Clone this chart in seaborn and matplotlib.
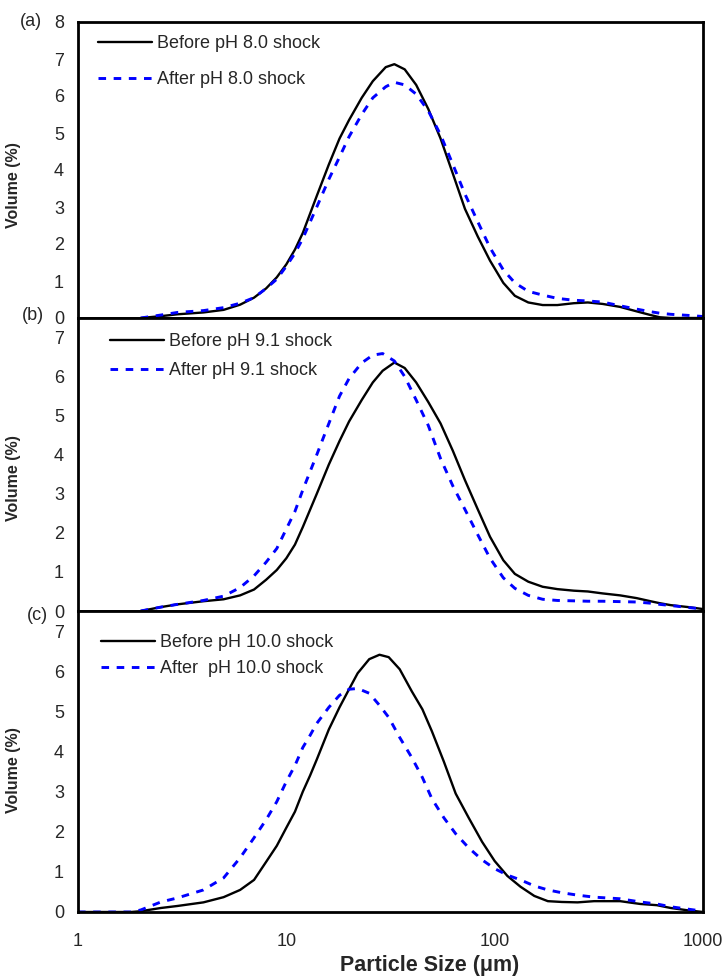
import numpy as np
import pandas as pd
import matplotlib
matplotlib.use("Agg")
import matplotlib.pyplot as plt
import seaborn as sns

# ---------------- data ----------------
sizes_a = [2.0, 2.5, 3, 4, 5, 6, 7, 8, 9, 10, 11, 12, 14, 16, 18, 20, 23, 26, 30, 33, 37, 42, 48,
           55, 63, 72, 83, 95, 110, 125, 145, 170, 200, 240, 280, 330, 400, 480, 560, 620, 700, 850, 1000]
before_a = [0.0, 0.05, 0.1, 0.15, 0.22, 0.36, 0.55, 0.8, 1.1, 1.45, 1.85, 2.3, 3.3, 4.15, 4.85, 5.35, 5.95,
            6.4, 6.78, 6.86, 6.72, 6.3, 5.65, 4.85, 3.9, 2.95, 2.2, 1.55, 0.95, 0.6, 0.42, 0.35, 0.35,
            0.4, 0.42, 0.38, 0.3, 0.18, 0.08, 0.02, 0.0, 0.0, 0.0]
after_a = [0.0, 0.08, 0.15, 0.2, 0.28, 0.4, 0.55, 0.8, 1.05, 1.4, 1.75, 2.15, 3.0, 3.75, 4.35, 4.9, 5.5,
           5.95, 6.25, 6.37, 6.3, 6.05, 5.6, 4.95, 4.15, 3.35, 2.6, 1.9, 1.3, 0.95, 0.72, 0.62, 0.53,
           0.48, 0.46, 0.43, 0.33, 0.24, 0.17, 0.13, 0.1, 0.07, 0.04]

sizes_b = [2.0, 2.5, 3, 4, 5, 6, 7, 8, 9, 10, 11, 12, 14, 16, 18, 20, 23, 26, 29, 33, 37, 42, 48,
           55, 63, 72, 83, 95, 110, 125, 145, 170, 200, 240, 280, 330, 400, 480, 560, 620, 700, 850, 1000]
before_b = [0.0, 0.1, 0.17, 0.25, 0.3, 0.4, 0.55, 0.8, 1.05, 1.35, 1.7, 2.15, 3.0, 3.75, 4.35, 4.85, 5.4,
            5.85, 6.15, 6.36, 6.22, 5.85, 5.35, 4.8, 4.1, 3.35, 2.6, 1.9, 1.3, 0.95, 0.75, 0.62, 0.56,
            0.52, 0.5, 0.45, 0.4, 0.33, 0.25, 0.2, 0.15, 0.1, 0.05]
after_b = [0.0, 0.1, 0.17, 0.27, 0.38, 0.6, 0.9, 1.25, 1.6, 2.1, 2.55, 3.1, 4.0, 4.8, 5.5, 5.95, 6.35,
           6.55, 6.59, 6.4, 6.0, 5.4, 4.75, 3.9, 3.2, 2.6, 1.95, 1.35, 0.85, 0.58, 0.4, 0.3, 0.27,
           0.26, 0.25, 0.25, 0.24, 0.23, 0.2, 0.17, 0.14, 0.09, 0.05]

sizes_c = [1, 1.5, 1.8, 2.0, 2.5, 3, 4, 5, 6, 7, 8, 9, 10, 11, 12, 13, 14, 16, 18, 20, 22, 25, 28, 31,
           35, 40, 45, 50, 57, 65, 75, 87, 100, 115, 133, 155, 180, 210, 250, 300, 400, 500, 600, 700,
           850, 1000]
before_c = [0.0, 0.0, 0.0, 0.02, 0.1, 0.15, 0.24, 0.37, 0.55, 0.8, 1.25, 1.65, 2.1, 2.5, 3.0, 3.4, 3.8,
            4.55, 5.1, 5.55, 5.95, 6.3, 6.41, 6.35, 6.05, 5.5, 5.05, 4.5, 3.75, 2.95, 2.35, 1.75, 1.27,
            0.9, 0.63, 0.4, 0.27, 0.25, 0.24, 0.27, 0.27, 0.2, 0.17, 0.1, 0.04, 0.0]
after_c = [0.0, 0.0, 0.0, 0.05, 0.25, 0.35, 0.55, 0.85, 1.35, 1.85, 2.3, 2.75, 3.25, 3.65, 4.1, 4.4,
           4.7, 5.1, 5.4, 5.55, 5.57, 5.45, 5.15, 4.85, 4.35, 3.85, 3.35, 2.82, 2.35, 1.95, 1.6, 1.3,
           1.08, 0.92, 0.8, 0.65, 0.55, 0.48, 0.42, 0.37, 0.33, 0.25, 0.2, 0.13, 0.07, 0.02]

labels_a = ["Before pH 8.0 shock", "After pH 8.0 shock"]
labels_b = ["Before pH 9.1 shock", "After pH 9.1 shock"]
labels_c = ["Before pH 10.0 shock", "After  pH 10.0 shock"]
panel_tags = ["(a)", "(b)", "(c)"]
x_ticks = [1, 10, 100, 1000]
x_ticklabels = ["1", "10", "100", "1000"]

# ---------------- style ----------------
sns.set_style("white")
plt.rcParams["font.family"] = ["Liberation Sans", "DejaVu Sans"]

W, H = 725, 976
fig = plt.figure(figsize=(W / 100, H / 100), dpi=100)

def fx(px):
    return px / W

def fy(py):
    return 1 - py / H

L, R = 78, 703
panels = [
    dict(top=22, bot=318, ymax=8, sizes=sizes_a, before=before_a, after=after_a, labels=labels_a,
         leg=(98, 35, 1.05), ylab_c=185, tag_xy=(31, 22)),
    dict(top=318, bot=611, ymax=7.5, sizes=sizes_b, before=before_b, after=after_b, labels=labels_b,
         leg=(110, 333, 0.68), ylab_c=478, tag_xy=(33, 315)),
    dict(top=611, bot=912, ymax=7.5, sizes=sizes_c, before=before_c, after=after_c, labels=labels_c,
         leg=(101, 634, 0.52), ylab_c=770, tag_xy=(37, 616)),
]

for i, p in enumerate(panels):
    ax = fig.add_axes([fx(L), fy(p["bot"]), fx(R) - fx(L), (p["bot"] - p["top"]) / H])
    df_b = pd.DataFrame({"size": p["sizes"], "vol": p["before"]})
    df_a = pd.DataFrame({"size": p["sizes"], "vol": p["after"]})
    sns.lineplot(data=df_b, x="size", y="vol", ax=ax, color="black", linewidth=1.7,
                 estimator=None, sort=False, label=p["labels"][0])
    sns.lineplot(data=df_a, x="size", y="vol", ax=ax, color="#0000FF", linewidth=2.1,
                 estimator=None, sort=False, label=p["labels"][1], linestyle=(0, (2.6, 2.6)))
    ax.set_xscale("log")
    ax.set_xlim(1, 1000)
    ax.set_ylim(0, p["ymax"])
    ax.set_yticks(range(0, 8 if p["ymax"] < 8 else 9))
    ax.tick_params(axis="y", direction="in", length=5, width=1, labelsize=13, pad=10)
    ax.minorticks_off()
    if i < 2:
        ax.set_xticks([])
        ax.set_xlabel("")
    else:
        ax.set_xticks(x_ticks)
        ax.set_xticklabels(x_ticklabels)
        ax.tick_params(axis="x", direction="in", length=5, width=1, labelsize=13, pad=15)
        ax.set_xlabel("Particle Size (\u03bcm)", fontsize=15.5, fontweight="bold")
        ax.xaxis.set_label_coords((430 - L) / (R - L), (p["bot"] - 955) / (p["bot"] - p["top"]))
    ax.set_ylabel("Volume (%)", fontsize=11.5, fontweight="bold")
    ax.yaxis.set_label_coords((21 - L) / (R - L),
                              1 - (p["ylab_c"] - p["top"]) / (p["bot"] - p["top"]))
    for s in ax.spines.values():
        s.set_visible(True)
        s.set_color("black")
        s.set_linewidth(2.0)
    lx, ly, lsp = p["leg"]
    ax.legend(loc="upper left",
              bbox_to_anchor=((lx - L) / (R - L), 1 - (ly - p["top"]) / (p["bot"] - p["top"])),
              frameon=False, fontsize=13, borderpad=0, borderaxespad=0, handlelength=3.0,
              handletextpad=0.25, labelspacing=lsp)
    fig.text(fx(p["tag_xy"][0]), fy(p["tag_xy"][1]), panel_tags[i], fontsize=13,
             ha="center", va="center")

fig.savefig("out.png", dpi=100)
